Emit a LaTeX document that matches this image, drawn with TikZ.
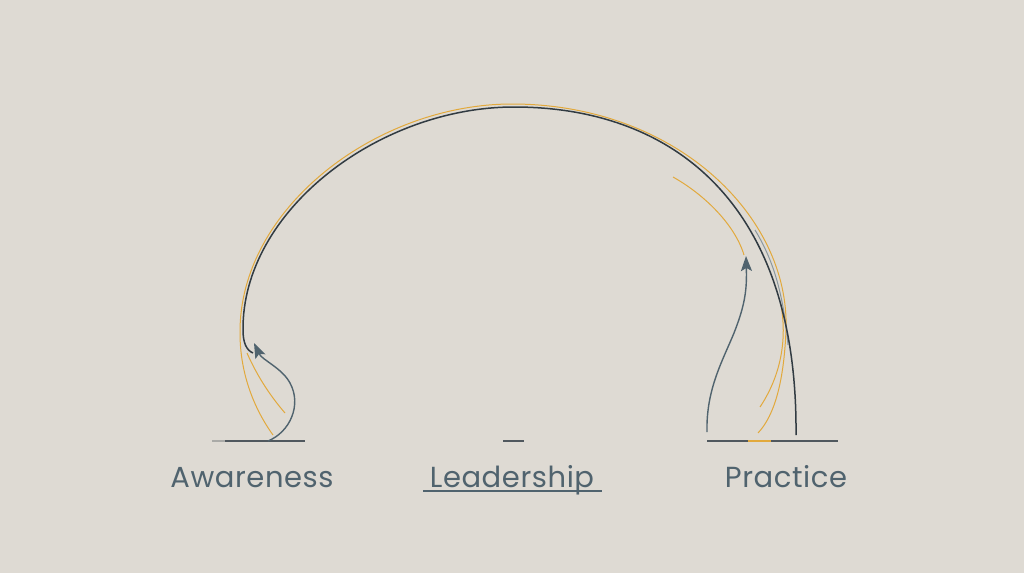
\documentclass[tikz,border=0pt]{standalone}
\usepackage{fontspec}
\setmainfont{Poppins}[LetterSpace=2]
\usetikzlibrary{arrows.meta}
\definecolor{bgc}{HTML}{DEDAD3}
\definecolor{darkline}{HTML}{313B42}
\definecolor{slate}{HTML}{50636E}
\definecolor{gold}{HTML}{E2A93C}
\definecolor{fadegray}{HTML}{8A979E}
\tikzset{
  mainarc/.style={draw=darkline, line width=1.5pt},
  goldline/.style={draw=gold, line width=1pt},
  slatearrow/.style={draw=slate, line width=1.4pt, -{Stealth[length=15pt,width=11pt,inset=3pt]}},
  baseline/.style={draw=darkline!85, line width=1.4pt},
  label/.style={text=slate, font=\fontsize{29}{32}\selectfont, inner sep=0pt, anchor=base}
}
\begin{document}
\begin{tikzpicture}[x=1pt,y=-1pt]
\fill[bgc] (0,0) rectangle (1024,573);
\useasboundingbox (0,0) rectangle (1024,573);

% named points
\coordinate (arcL) at (253,353);
\coordinate (arcTop) at (514,107);
\coordinate (arcR) at (796,435);
\coordinate (awBase) at (268,441);
\coordinate (awTip) at (254,343);
\coordinate (prBase) at (707,432);
\coordinate (prTip) at (746,256);

% base lines
\coordinate (bl1) at (212,441); \coordinate (bl2) at (305,441);
\coordinate (bc1) at (503,441); \coordinate (bc2) at (524,441);
\coordinate (br1) at (707,441); \coordinate (br2) at (838,441);
\coordinate (bo1) at (748,441); \coordinate (bo2) at (771,441);
\draw[baseline] (bl1) -- (bl2);
\draw[draw=bgc!70!darkline, line width=1.4pt] (bl1) -- ++(13,0);
\draw[baseline] (bc1) -- (bc2);
\draw[baseline] (br1) -- (br2);
\draw[draw=gold, line width=1.6pt] (bo1) -- (bo2);

% gold lines
\draw[goldline] (273,435) .. controls (255,410) and (240,375) .. (240,333)
  .. controls (239,208) and (377,104) .. (512,104)
  .. controls (674,104) and (790,215) .. (786,330)
  .. controls (784,380) and (775,415) .. (758,433);
\draw[goldline] (247,353) .. controls (258,378) and (272,398) .. (285,413);
\draw[goldline] (781,305) .. controls (788,345) and (778,380) .. (760,407);
\draw[goldline] (673,177) .. controls (705,195) and (735,225) .. (744,255);

% faint inner gray line on the right
\draw[draw=fadegray, line width=1pt] (755,230) .. controls (772,258) and (783,290) .. (788,345);

% main dark arc
\draw[mainarc] (arcL) .. controls (246,350) and (243,342) .. (243,330)
  .. controls (242,210) and (380,107) .. (arcTop)
  .. controls (670,107) and (798,200) .. (arcR);

% arrows
\draw[slatearrow] (awBase) .. controls (290,432) and (302,405) .. (290,383)
  .. controls (282,368) and (262,360) .. (awTip);
\draw[slatearrow] (prBase) .. controls (706,390) and (722,362) .. (734,333)
  .. controls (745,305) and (747,290) .. (prTip);

% labels
\node[label] (aw) at (252,487) {Awareness};
\node[label] (ld) at (512,487) {Leadership};
\node[label] (pr) at (786,487) {Practice};
\coordinate (u1) at (423,491); \coordinate (u2) at (602,491);
\draw[draw=slate, line width=1.2pt] (u1) -- (u2);
\end{tikzpicture}
\end{document}
